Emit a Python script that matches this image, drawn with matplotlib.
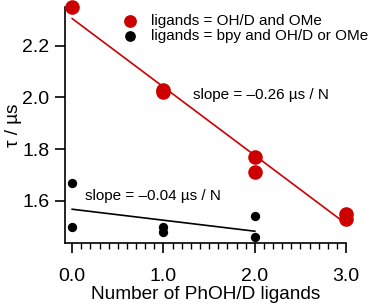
import numpy as np
import matplotlib
matplotlib.use('Agg')
from matplotlib import pyplot as plt
from matplotlib.ticker import MultipleLocator

plt.rcParams['font.family'] = ['Liberation Sans', 'DejaVu Sans']

# red: ligands = OH/D and OMe
x_red = [0, 1, 1, 2, 2, 3, 3]
y_red = [2.35, 2.02, 2.03, 1.77, 1.71, 1.55, 1.53]
# black: ligands = bpy and OH/D or OMe
x_blk = [0, 0, 1, 1, 2, 2]
y_blk = [1.67, 1.50, 1.50, 1.48, 1.54, 1.46]

red = '#cc0000'

fig = plt.figure(figsize=(3.75, 3.06), dpi=100)
ax = fig.add_axes([0.173, 0.206, 0.75, 0.771])

# linear fits
p_red = np.polyfit(x_red, y_red, 1)
p_blk = np.polyfit(x_blk, y_blk, 1)
xr = np.array([0, 3])
xb = np.array([0, 2])
ax.plot(xr, np.polyval(p_red, xr), color=red, lw=1.2, zorder=2)
ax.plot(xb, np.polyval(p_blk, xb), color='black', lw=1.2, zorder=2)

ax.scatter(x_red, y_red, s=110, color=red, zorder=3, clip_on=False, linewidths=0,
           label='ligands = OH/D and OMe')
ax.scatter(x_blk, y_blk, s=45, color='black', zorder=3, clip_on=False, linewidths=0,
           label='ligands = bpy and OH/D or OMe')

ax.text(1.32, 2.01, 'slope = \u20130.26 \u00b5s / N', fontsize=11, va='center')
ax.text(0.14, 1.62, 'slope = \u20130.04 \u00b5s / N', fontsize=11, va='center')

ax.set_xlim(-0.08, 3.0)
ax.set_ylim(1.437, 2.35)
ax.set_xticks([0, 1, 2, 3])
ax.set_xticklabels(['0.0', '1.0', '2.0', '3.0'])
ax.xaxis.set_minor_locator(MultipleLocator(0.1))
ax.set_yticks([1.6, 1.8, 2.0, 2.2])
ax.set_yticklabels(['1.6', '1.8', '2.0', '2.2'])

for s in ['top', 'right']:
    ax.spines[s].set_visible(False)
for s in ['left', 'bottom']:
    ax.spines[s].set_linewidth(1.2)

ax.tick_params(axis='both', which='major', direction='out', length=7, width=1.2,
               labelsize=14)
ax.tick_params(axis='x', which='major', pad=11)
ax.tick_params(axis='y', which='major', pad=4)
ax.tick_params(axis='x', which='minor', direction='out', length=4, width=1.0)

ax.set_xlabel('Number of PhOH/D ligands', fontsize=13.7, labelpad=1)
ax.set_ylabel('\u03c4 / \u00b5s', fontsize=13.7, labelpad=0)

leg = ax.legend(loc='upper left', bbox_to_anchor=(0.155, 0.995), frameon=False,
                fontsize=11, handletextpad=0.4, labelspacing=0.05,
                borderaxespad=0, markerscale=1.0)
leg.legend_handles[0].set_sizes([85])
leg.legend_handles[1].set_sizes([60])

fig.savefig('out.png', dpi=100)
